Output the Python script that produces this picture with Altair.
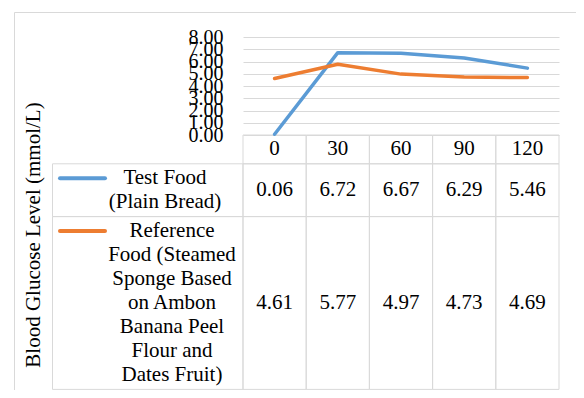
import altair as alt
import pandas as pd

# ---------------- data ----------------
times = ["0", "30", "60", "90", "120"]
series = [
    "Test Food (Plain Bread)",
    "Reference Food (Steamed Sponge Based on Ambon Banana Peel Flour and Dates Fruit)",
]
test_food = [0.06, 6.72, 6.67, 6.29, 5.46]
reference_food = [4.61, 5.77, 4.97, 4.73, 4.69]
legend_lines = [
    ["Test Food", "(Plain Bread)"],
    ["Reference", "Food (Steamed", "Sponge Based", "on Ambon", "Banana Peel", "Flour and", "Dates Fruit)"],
]
colors = ["#5B9BD5", "#ED7D31"]
y_ticks = [0, 1, 2, 3, 4, 5, 6, 7, 8]
y_title = "Blood Glucose Level (mmol/L)"

# ---------------- layout / style ----------------
FONT = "Liberation Serif"
W, H = 562, 378
PX0, PX1 = 229, 545          # plot / table value columns
PY0, PY8 = 123, 25           # pixel of value 0 and value 8
LINE_H = 24                  # table text line height
PAD = 0.2                    # row padding (in lines)
GRID = "#d9d9d9"
TXT = "#000000"

values_by_series = [test_food, reference_food]

# long table for the lines
line_df = pd.DataFrame(
    [{"time": t, "series": s, "value": v}
     for s, vals in zip(series, values_by_series) for t, v in zip(times, vals)]
)

# table rows: header + one per series, height from number of text lines
row_names = ["header"] + series
row_lines = [1] + [len(l) for l in legend_lines]
tops, bottoms = [], []
acc = 0.0
for n in row_lines:
    tops.append(acc)
    acc += n + PAD
    bottoms.append(acc)
total = acc

cells = []
for r, name in enumerate(row_names):
    for i, t in enumerate(times):
        txt = t if r == 0 else f"{values_by_series[r - 1][i]:.2f}"
        cells.append({"row": name, "time": t, "top": tops[r], "bottom": bottoms[r],
                      "mid": (tops[r] + bottoms[r]) / 2, "text": txt})
cells_df = pd.DataFrame(cells)

legend_df = pd.DataFrame(
    [{"series": s, "idx": k, "top": tops[k + 1], "bottom": bottoms[k + 1],
      "first": tops[k + 1] + PAD / 2 + 0.5,
      "label": "\n".join(legend_lines[k])}
     for k, s in enumerate(series)]
)

# ---------------- scales / encodings ----------------
x_enc = alt.X("time:N", sort=times,
              scale=alt.Scale(type="band", domain=times, range=[PX0, PX1],
                              paddingInner=0, paddingOuter=0),
              axis=None)
x_center = alt.X("time:N", sort=times, bandPosition=0.5,
                 scale=alt.Scale(type="band", domain=times, range=[PX0, PX1],
                                 paddingInner=0, paddingOuter=0),
                 axis=None)
table_scale = alt.Scale(domain=[0, total], range=[PY0, PY0 + total * LINE_H],
                        nice=False, zero=False)
color_enc = alt.Color("series:N", scale=alt.Scale(domain=series, range=colors), legend=None)

# ---------------- layers ----------------
frame = alt.Chart(pd.DataFrame({"k": [0]})).mark_rect(
    fill="transparent", stroke=GRID, strokeWidth=1
).encode(x=alt.value(0.5), y=alt.value(0.5), x2=alt.value(W + 40), y2=alt.value(H + 40))

title = alt.Chart(pd.DataFrame({"t": [y_title]})).mark_text(
    angle=270, font=FONT, fontSize=21, color=TXT, align="center", baseline="middle"
).encode(text="t:N", x=alt.value(19.5), y=alt.value(223))

cell_rects = alt.Chart(cells_df).mark_rect(
    fill="transparent", stroke=GRID, strokeWidth=1
).encode(x=x_enc, y=alt.Y("top:Q", scale=table_scale, axis=None), y2="bottom:Q")

cell_text = alt.Chart(cells_df).mark_text(
    font=FONT, fontSize=21, color=TXT, align="center", baseline="middle"
).encode(x=x_center, y=alt.Y("mid:Q", scale=table_scale, axis=None), text="text:N")

legend_rects = alt.Chart(legend_df).mark_rect(
    fill="transparent", stroke=GRID, strokeWidth=1
).encode(x=alt.value(38.5), x2=alt.value(PX0),
         y=alt.Y("top:Q", scale=table_scale, axis=None), y2="bottom:Q")

legend_swatch = alt.Chart(legend_df).mark_rule(
    strokeWidth=4, strokeCap="round"
).encode(x=alt.value(46), x2=alt.value(91),
         y=alt.Y("first:Q", scale=table_scale, axis=None), color=color_enc)

legend_text_1 = alt.Chart(legend_df).transform_filter("datum.idx == 0").mark_text(
    font=FONT, fontSize=21, color=TXT, align="center", baseline="middle",
    lineBreak="\n", lineHeight=LINE_H
).encode(x=alt.value(151), y=alt.Y("first:Q", scale=table_scale, axis=None), text="label:N")

legend_text_2 = alt.Chart(legend_df).transform_filter("datum.idx == 1").mark_text(
    font=FONT, fontSize=21, color=TXT, align="center", baseline="middle",
    lineBreak="\n", lineHeight=LINE_H
).encode(x=alt.value(158), y=alt.Y("first:Q", scale=table_scale, axis=None), text="label:N")

table_group = alt.layer(cell_rects, cell_text, legend_rects, legend_swatch,
                        legend_text_1, legend_text_2)

lines = alt.Chart(line_df).mark_line(
    strokeWidth=3.5, strokeCap="round", strokeJoin="round"
).encode(
    x=x_center,
    y=alt.Y("value:Q",
            scale=alt.Scale(domain=[0, 8], range=[PY0, PY8], nice=False, zero=False),
            axis=alt.Axis(values=y_ticks, format=".2f", offset=-PX0, labelPadding=20,
                          ticks=False, domain=False, grid=True, gridColor=GRID,
                          gridWidth=1, labelFont=FONT, labelFontSize=20,
                          labelColor=TXT, labelOverlap=False, title=None)),
    color=color_enc,
)

chart = alt.layer(frame, title, table_group, lines).resolve_scale(
    y="independent"
).properties(
    width=W, height=H,
    autosize=alt.AutoSizeParams(type="none"),
    padding={"left": 6, "top": 4, "right": 0, "bottom": 0},
).configure_view(strokeWidth=0)

chart.save("out.html", embed_options={"renderer": "svg", "actions": False})
